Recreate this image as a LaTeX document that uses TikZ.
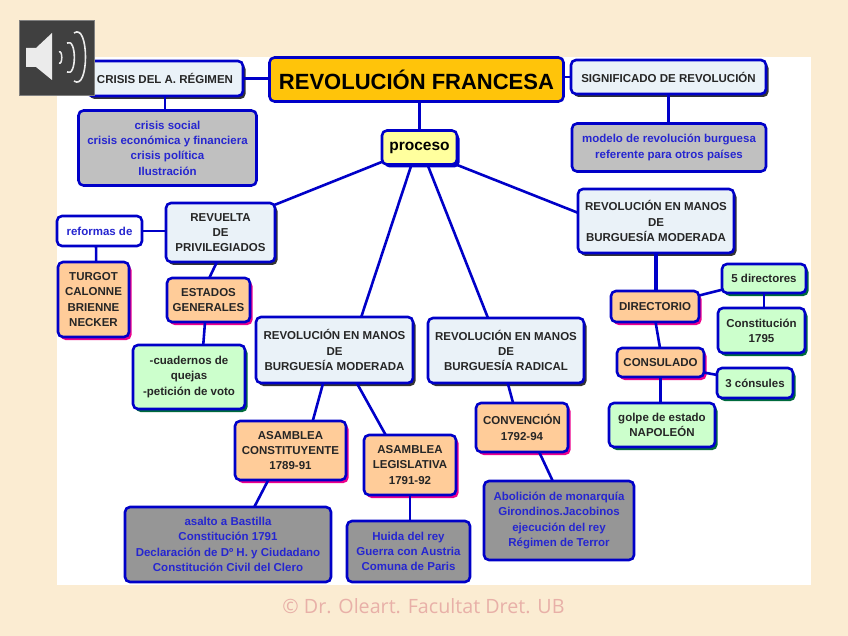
\documentclass[tikz,border=0pt]{standalone}
\usepackage{fontspec}
\setmainfont{Open Sans}
\newfontfamily\negrita{Liberation Sans}
\usetikzlibrary{shadows}
\definecolor{fondo}{HTML}{FBECD2}
\definecolor{azul}{HTML}{0000C8}
\definecolor{oro}{HTML}{FFC40A}
\definecolor{amarillo}{HTML}{FFFF9E}
\definecolor{celeste}{HTML}{EAF2F8}
\definecolor{naranja}{HTML}{FFCC99}
\definecolor{verde}{HTML}{CCFFCC}
\definecolor{gris}{HTML}{C0C0C0}
\definecolor{grisosc}{HTML}{969696}
\definecolor{verdeosc}{HTML}{006B3C}
\definecolor{marca}{HTML}{E8B0A8}
\tikzset{
    caja/.style={draw=azul, line width=2.6, rounded corners=5, outer sep=0, inner sep=0,
        align=center, font=\fontsize{11.5}{15.3}\selectfont\negrita\bfseries, text=black!85},
    sombra/.style={drop shadow={shadow xshift=2.5pt, shadow yshift=-3pt, fill=#1, opacity=1}},
    titulo/.style={caja, fill=celeste, sombra=black!80},
    etapa/.style={caja, fill=naranja, sombra=magenta},
    dato/.style={caja, fill=verde, sombra=verdeosc},
    lista/.style={caja, fill=gris, text=azul!85!white},
    listaosc/.style={caja, fill=grisosc, text=azul!85!white},
    enlace/.style={draw=azul, line width=2.6},
}
\begin{document}
\begin{tikzpicture}[x=1pt, y=-1pt]
    \useasboundingbox (0,0) rectangle (848,636);
    \fill[fondo] (0,0) rectangle (848,636);
    \fill[white] (57,57) rectangle (811,585);
    % cabecera
    \node[caja, fill=oro, minimum width=294, minimum height=44, font=\fontsize{22}{26}\selectfont\negrita\bfseries, text=black] (revolucion) at (416.5,79.5) {REVOLUCIÓN FRANCESA};
    \node[titulo, minimum width=156, minimum height=35] (crisis) at (165,78.5) {CRISIS DEL A. RÉGIMEN};
    \node[lista, minimum width=178, minimum height=75] (crisislista) at (167.5,148) {crisis social\\crisis económica y financiera\\crisis política\\Ilustración};
    \node[titulo, minimum width=195, minimum height=34] (significado) at (668.5,77) {SIGNIFICADO DE REVOLUCIÓN};
    \node[lista, minimum width=194, minimum height=48] (modelo) at (669,147.5) {modelo de revolución burguesa\\referente para otros países};
    \node[caja, fill=amarillo, sombra=azul, minimum width=75, minimum height=34, font=\fontsize{15.5}{18}\selectfont\negrita\bfseries, text=black] (proceso) at (419.5,147.5) {proceso};
    % revuelta
    \node[titulo, minimum width=109, minimum height=59] (revuelta) at (220.5,232.5) {REVUELTA\\DE\\PRIVILEGIADOS};
    \node[caja, fill=white, text=azul!85!white, minimum width=85, minimum height=30] (reformas) at (99.5,231) {reformas de};
    \node[etapa, minimum width=71, minimum height=75] (turgot) at (93.5,299.5) {TURGOT\\CALONNE\\BRIENNE\\NECKER};
    \node[etapa, minimum width=83, minimum height=44] (estados) at (208.5,300) {ESTADOS\\GENERALES};
    \node[dato, minimum width=112, minimum height=64] (cuadernos) at (189,377) {-cuadernos de\\quejas\\-petición de voto};
    % burguesia moderada
    \node[titulo, minimum width=157, minimum height=66] (moderada) at (334.5,350) {REVOLUCIÓN EN MANOS\\DE\\BURGUESÍA MODERADA};
    \node[etapa, minimum width=111, minimum height=59] (constituyente) at (290.5,450.5) {ASAMBLEA\\CONSTITUYENTE\\1789-91};
    \node[etapa, minimum width=92, minimum height=60] (legislativa) at (410,465) {ASAMBLEA\\LEGISLATIVA\\1791-92};
    \node[listaosc, minimum width=206, minimum height=75] (bastilla) at (228,544.5) {asalto a Bastilla\\Constitución 1791\\Declaración de Dº H. y Ciudadano\\Constitución Civil del Clero};
    \node[listaosc, minimum width=123, minimum height=61] (huida) at (408.5,551.5) {Huida del rey\\Guerra con Austria\\Comuna de Paris};
    % burguesia radical
    \node[titulo, minimum width=156, minimum height=65] (radical) at (506,350.5) {REVOLUCIÓN EN MANOS\\DE\\BURGUESÍA RADICAL};
    \node[etapa, minimum width=92, minimum height=49] (convencion) at (522,427.5) {CONVENCIÓN\\1792-94};
    \node[listaosc, minimum width=150, minimum height=79] (abolicion) at (559,520.5) {Abolición de monarquía\\Girondinos.Jacobinos\\ejecución del rey\\Régimen de Terror};
    % segunda moderada
    \node[titulo, minimum width=156, minimum height=64] (moderada2) at (656,221) {REVOLUCIÓN EN MANOS\\DE\\BURGUESÍA MODERADA};
    \node[etapa, minimum width=88, minimum height=31] (directorio) at (655,306.5) {DIRECTORIO};
    \node[dato, minimum width=84, minimum height=29] (directores) at (764,278.5) {5 directores};
    \node[dato, minimum width=87, minimum height=45] (constitucion) at (761.5,330.5) {Constitución\\1795};
    \node[etapa, minimum width=87, minimum height=29] (consulado) at (660.5,362.5) {CONSULADO};
    \node[dato, minimum width=76, minimum height=30] (consules) at (755,383) {3 cónsules};
    \node[dato, minimum width=106, minimum height=44] (golpe) at (662,425) {golpe de estado\\NAPOLEÓN};
    % enlaces
    \draw[enlace] (crisis.east) -- (revolucion.west|-crisis.east);
    \draw[enlace] (revolucion.east|-significado.west) -- (significado.west);
    \draw[enlace] (proceso.north) -- (proceso.north|-revolucion.south);
    \draw[enlace] (crisis.south) -- (crisis.south|-crisislista.north);
    \draw[enlace] (significado.south) -- (significado.south|-modelo.north);
    \draw[enlace] (proceso.201) -- (revuelta.27);
    \draw[enlace] (proceso.245) -- (moderada.51);
    \draw[enlace] (proceso.295) -- (radical.119);
    \draw[enlace] (proceso.335) -- (moderada2.174);
    \draw[enlace] (reformas.east) -- (revuelta.west|-reformas.east);
    \draw[enlace] (reformas.257) -- (turgot.86);
    \draw[enlace] (revuelta.263) -- (estados.88);
    \draw[enlace] (estados.261) -- (cuadernos.66);
    \draw[enlace] (moderada.251) -- (constituyente.53);
    \draw[enlace] (moderada.304) -- (legislativa.129);
    \draw[enlace] (constituyente.233) -- (bastilla.55);
    \draw[enlace] (legislativa.south) -- (legislativa.south|-huida.north);
    \draw[enlace] (radical.273) -- (convencion.110);
    \draw[enlace] (convencion.305) -- (abolicion.99);
    \draw[enlace, line width=3.5] (moderada2.south) -- (moderada2.south|-directorio.north);
    \draw[enlace] (directorio.14) -- (directores.195);
    \draw[enlace] (directores.south) -- (directores.south|-constitucion.north);
    \draw[enlace] (directorio.272) -- (consulado.92);
    \draw[enlace] (consulado.347) -- (consules.168);
    \draw[enlace] (consulado.south) -- (consulado.south|-golpe.north);
    % altavoz
    \fill[black!75, draw=black!50] (19,20) rectangle (94,95);
    \fill[white!92!black] (26,48) -- (36,48) -- (52,33) -- (52,80) -- (36,67) -- (26,67) -- cycle;
    \draw[white!92!black, line width=1.5] (59,52) to[out=30, in=-30] (59,63);
    \draw[white!92!black, line width=1.6] (67,43) to[out=30, in=-30] (67,72);
    \draw[white!92!black, line width=1.6] (74,33) to[out=35, in=-35] (74,81);
    \node[text=marca, font=\fontsize{19.7}{22}\selectfont, inner sep=0] (derechos) at (423.5,606) {© Dr. Oleart. Facultat Dret. UB};
\end{tikzpicture}
\end{document}
